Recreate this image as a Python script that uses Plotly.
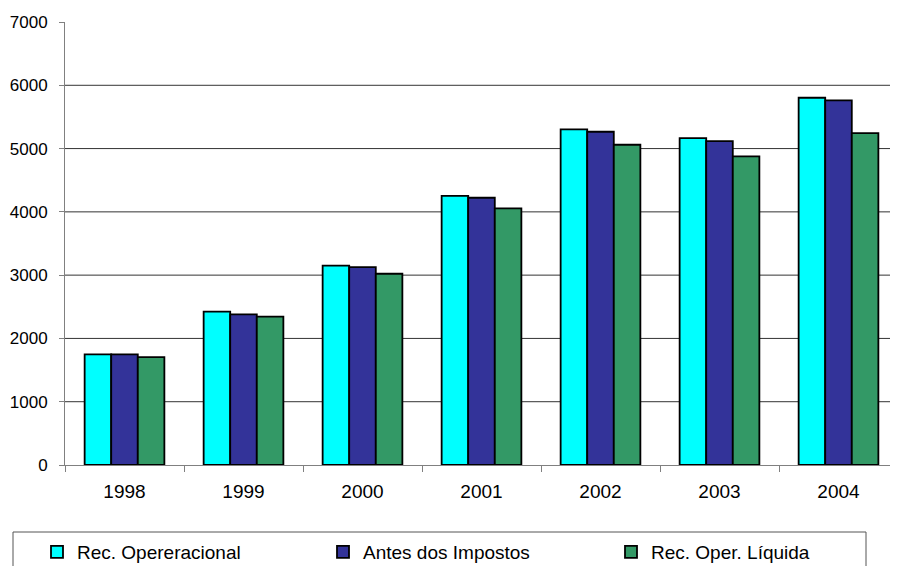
import plotly.graph_objects as go

years = ["1998", "1999", "2000", "2001", "2002", "2003", "2004"]
rec_operacional = [1749, 2422, 3149, 4254, 5303, 5166, 5803]
antes_impostos = [1749, 2380, 3128, 4223, 5266, 5118, 5761]
rec_liquida = [1706, 2343, 3022, 4055, 5060, 4876, 5245]

series = [
    ("Rec. Opereracional", rec_operacional, "#00FFFF"),
    ("Antes dos Impostos", antes_impostos, "#333399"),
    ("Rec. Oper. Líquida", rec_liquida, "#339966"),
]

# page body has an 8px margin; figure coordinates = screen - 8
OFF = 8
W, H = 898 - OFF, 566 - OFF
L, R, T, B = 65 - OFF, 0, 22 - OFF, H - (465 - OFF)
pw, ph = W - L - R, H - T - B

def px(sx):
    return (sx - OFF - L) / pw

def py(sy):
    return (H - B - (sy - OFF)) / ph

legend_ids = ["legend", "legend2", "legend3"]
legend_x = [37, 323, 611]

fig = go.Figure()
for (name, vals, col), lid in zip(series, legend_ids):
    fig.add_trace(go.Bar(
        x=years, y=vals, name=name, legend=lid,
        marker=dict(color=col, line=dict(color="black", width=1.8)),
    ))

legend_layout = {}
for lid, lx in zip(legend_ids, legend_x):
    legend_layout[lid] = dict(
        orientation="h", xref="container", yref="container",
        x=(lx - OFF) / W, y=1 - (533 - OFF) / H, xanchor="left", yanchor="top",
        font=dict(size=19), bgcolor="rgba(0,0,0,0)", borderwidth=0,
        itemwidth=30,
    )

fig.update_layout(
    width=W, height=H,
    margin=dict(l=L, r=R, t=T, b=B, pad=0, autoexpand=False),
    paper_bgcolor="white", plot_bgcolor="white",
    barmode="group", bargap=0.33, bargroupgap=0,
    font=dict(family="Liberation Sans, Arial, sans-serif", size=17, color="black"),
    showlegend=True,
    xaxis=dict(
        type="category", showgrid=False, showline=True, linecolor="#808080", linewidth=1,
        ticks="outside", tickson="boundaries", ticklen=6, tickcolor="#808080",
        tickfont=dict(size=19), ticklabelstandoff=9,
    ),
    yaxis=dict(
        range=[0, 7000], tickvals=[0, 1000, 2000, 3000, 4000, 5000, 6000, 7000],
        showgrid=False, showline=True, linecolor="#808080", linewidth=1,
        ticks="outside", ticklen=5, tickcolor="#808080", ticklabelstandoff=8,
        tickfont=dict(size=17), zeroline=False,
    ),
    **legend_layout,
)

# gridlines at 1000..6000
for g in [1000, 2000, 3000, 4000, 5000, 6000]:
    fig.add_shape(type="line", xref="paper", yref="y", x0=0, x1=1, y0=g, y1=g,
                  line=dict(color="#333333", width=1), layer="below")

# legend frame
fig.add_shape(type="rect", xref="paper", yref="paper",
              x0=px(13), x1=px(866), y0=py(532), y1=py(580),
              line=dict(color="#555555", width=1), fillcolor="rgba(0,0,0,0)")

fig.write_html("out.html")
